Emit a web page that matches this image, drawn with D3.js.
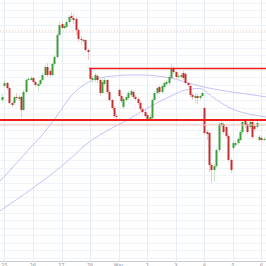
<!DOCTYPE html>
<html>
<head>
<meta charset="utf-8">
<script src="https://cdn.jsdelivr.net/npm/d3@7"></script>
<style>
	html, body { margin: 0; padding: 0; background: #fff; }
	#viz { width: 266px; height: 266px; overflow: hidden; }
</style>
</head>
<body>
<div id="viz"></div>
<script>
"use strict";

// 2h candles, index 0 = Feb 25 00:00
var firstIndex = -1
var opens = [1500,1528,1534,1524,1494,1494,1506,1502,1506,1480,1516,1540,1540,1544,1536,1528,1532,1540,1550,1566,1558,1550,1572,1586,1630,1652,1644,1646,1656,1668,1664,1662,1640,1622,1618,1620,1600,1564,1540,1540,1548,1540,1514,1532,1540,1516,1500,1484,1468,1520,1508,1486,1500,1504,1510,1516,1506,1502,1494,1482,1476,1470,1462,1464,1500,1514,1526,1516,1526,1532,1534,1544,1564,1556,1546,1546,1554,1552,1534,1528,1510,1504,1508,1504,1508,1484,1436,1434,1370,1360,1368,1400,1450,1452,1446,1428,1380,1404,1410,1414,1420,1436,1458,1452,1446,1456,1448,1446,1420,1424,1420]
var highs = [1512,1540,1536,1526,1498,1510,1514,1510,1508,1520,1544,1546,1548,1546,1538,1536,1542,1554,1570,1574,1562,1576,1590,1634,1656,1656,1652,1660,1670,1676,1672,1666,1644,1628,1624,1622,1602,1566,1548,1554,1552,1542,1544,1546,1542,1520,1502,1488,1472,1524,1512,1506,1510,1518,1522,1520,1510,1506,1498,1484,1480,1474,1472,1504,1518,1528,1530,1532,1538,1540,1550,1572,1568,1558,1552,1554,1558,1556,1536,1532,1514,1512,1512,1510,1518,1486,1440,1436,1374,1372,1404,1456,1458,1456,1450,1432,1384,1420,1418,1426,1440,1460,1462,1456,1460,1460,1452,1458,1430,1428,1426]
var lows = [1496,1524,1520,1492,1486,1490,1500,1498,1464,1478,1514,1538,1538,1532,1526,1516,1528,1536,1548,1546,1546,1548,1568,1584,1628,1642,1642,1644,1652,1660,1652,1630,1616,1610,1614,1596,1580,1540,1534,1536,1534,1508,1512,1528,1512,1496,1480,1464,1462,1504,1494,1482,1496,1500,1506,1502,1500,1490,1478,1472,1464,1458,1460,1462,1498,1510,1512,1512,1522,1528,1530,1542,1552,1540,1542,1544,1540,1530,1526,1506,1500,1494,1492,1500,1506,1430,1420,1356,1334,1336,1364,1396,1446,1432,1424,1376,1354,1400,1406,1410,1418,1432,1444,1432,1442,1422,1438,1442,1416,1418,1418]
var closes = [1506,1534,1524,1494,1490,1506,1504,1506,1480,1516,1540,1542,1544,1536,1530,1532,1540,1550,1566,1550,1550,1572,1586,1630,1650,1644,1648,1656,1666,1664,1660,1640,1622,1620,1620,1600,1596,1542,1544,1550,1540,1514,1536,1540,1516,1500,1484,1468,1466,1508,1498,1502,1506,1514,1518,1506,1502,1494,1482,1476,1468,1462,1466,1500,1514,1524,1516,1528,1534,1536,1546,1564,1556,1546,1548,1550,1544,1534,1530,1510,1506,1508,1504,1508,1514,1434,1432,1370,1360,1368,1400,1452,1454,1436,1428,1380,1360,1414,1414,1422,1436,1456,1450,1436,1456,1426,1442,1454,1426,1420,1422]

// moving averages read at every 6th candle
var maIndex = [-2,4,10,16,22,28,34,40,46,52,58,64,70,76,82,88,94,100,106,112]
var maFast = [1337,1368,1400,1431,1468,1508,1532,1544,1548,1550,1550,1548,1544,1536,1528,1522,1517,1513,1509,1505]
var maSlow = [1278,1297,1317,1338,1360,1384,1410,1430,1446,1461,1478,1494,1508,1520,1523,1504,1486,1475,1469,1464]

// levels
var upperLevel = 1563, upperLevelFrom = 35.5
var lowerLevel = 1460
var lowerShadow = 1450
var dottedLevel = 1638

var tickIndex = [0,12,24,36,48,60,72,84,96,108]
var tickLabels = ["25","26","27","28","Mar","2","3","4","5","6"]

var width = 266, height = 266, axisY = 261

var x = d3.scaleLinear().domain([-1.85, 109.9]).range([0, width])
var y = d3.scaleLinear().domain([1168, 1700]).range([266, 0])

var svg = d3.select("#viz")
	.append("svg")
	.attr("width", width)
	.attr("height", height)

var grid = svg.append("g")

grid.selectAll("line.h")
	.data(d3.range(1170, 1700, 15))
	.enter()
	.append("line")
	.attr("class", "h")
	.attr("x1", 0)
	.attr("x2", width)
	.attr("y1", function(d){ return Math.round(y(d)) + 0.5 })
	.attr("y2", function(d){ return Math.round(y(d)) + 0.5 })
	.attr("stroke", "#f0f3f8")
	.attr("stroke-width", 1)

grid.selectAll("line.v")
	.data(tickIndex)
	.enter()
	.append("line")
	.attr("class", "v")
	.attr("x1", function(d){ return Math.round(x(d)) + 0.5 })
	.attr("x2", function(d){ return Math.round(x(d)) + 0.5 })
	.attr("y1", 0)
	.attr("y2", axisY)
	.attr("stroke", "#e8eef5")
	.attr("stroke-width", 1)

svg.append("line")
	.attr("x1", 0).attr("x2", width)
	.attr("y1", y(dottedLevel)).attr("y2", y(dottedLevel))
	.attr("stroke", "#efc4c4")
	.attr("stroke-width", 1)
	.attr("stroke-dasharray", "1,2")

var maLine = d3.line()
	.x(function(d){ return x(d[0]) })
	.y(function(d){ return y(d[1]) })
	.curve(d3.curveMonotoneX)

;[maFast, maSlow].forEach(function(series){
	svg.append("path")
		.attr("d", maLine(series.map(function(v, i){ return [maIndex[i], v] })))
		.attr("fill", "none")
		.attr("stroke", "#bdb9f8")
		.attr("stroke-width", 0.9)
})

var candles = opens.map(function(o, i){
	return { i: i + firstIndex, o: o, h: highs[i], l: lows[i], c: closes[i] }
})

var bodyW = 2
var cg = svg.append("g")

cg.selectAll("line")
	.data(candles)
	.enter()
	.append("line")
	.attr("x1", function(d){ return Math.round(x(d.i)) + 0.5 })
	.attr("x2", function(d){ return Math.round(x(d.i)) + 0.5 })
	.attr("y1", function(d){ return y(d.h) })
	.attr("y2", function(d){ return y(d.l) })
	.attr("stroke", function(d){ return d.c >= d.o ? "#c6e6c6" : "#f5c8c8" })
	.attr("stroke-width", 1)

cg.selectAll("rect")
	.data(candles)
	.enter()
	.append("rect")
	.attr("x", function(d){ return Math.round(x(d.i)) + 0.5 - bodyW / 2 })
	.attr("width", bodyW)
	.attr("y", function(d){ return y(Math.max(d.o, d.c)) })
	.attr("height", function(d){ return Math.max(1, Math.abs(y(d.o) - y(d.c))) })
	.attr("fill", function(d){ return d.c >= d.o ? "#3f9f3f" : "#c3302f" })

// levels
svg.append("line")
	.attr("x1", 0).attr("x2", width)
	.attr("y1", y(lowerShadow)).attr("y2", y(lowerShadow))
	.attr("stroke", "#f3c0c0")
	.attr("stroke-width", 1)

svg.append("line")
	.attr("x1", 0).attr("x2", width)
	.attr("y1", y(lowerLevel)).attr("y2", y(lowerLevel))
	.attr("stroke", "#f01c1c")
	.attr("stroke-width", 1.8)

svg.append("line")
	.attr("x1", x(upperLevelFrom)).attr("x2", width)
	.attr("y1", y(upperLevel)).attr("y2", y(upperLevel))
	.attr("stroke", "#f01c1c")
	.attr("stroke-width", 1.5)

// axis
svg.append("rect")
	.attr("x", 0).attr("y", axisY)
	.attr("width", width).attr("height", height - axisY)
	.attr("fill", "#fff")

svg.append("line")
	.attr("x1", 0).attr("x2", width)
	.attr("y1", axisY + 0.5).attr("y2", axisY + 0.5)
	.attr("stroke", "#c8ccd2")
	.attr("stroke-width", 1)

svg.selectAll("text.tick")
	.data(tickIndex)
	.enter()
	.append("text")
	.attr("class", "tick")
	.attr("x", function(d){ return x(d) })
	.attr("y", 266.5)
	.attr("text-anchor", "middle")
	.attr("font-family", "DejaVu Sans, sans-serif")
	.attr("font-size", "5px")
	.attr("fill", "#8f949a")
	.text(function(d, i){ return tickLabels[i] })
</script>
</body>
</html>
